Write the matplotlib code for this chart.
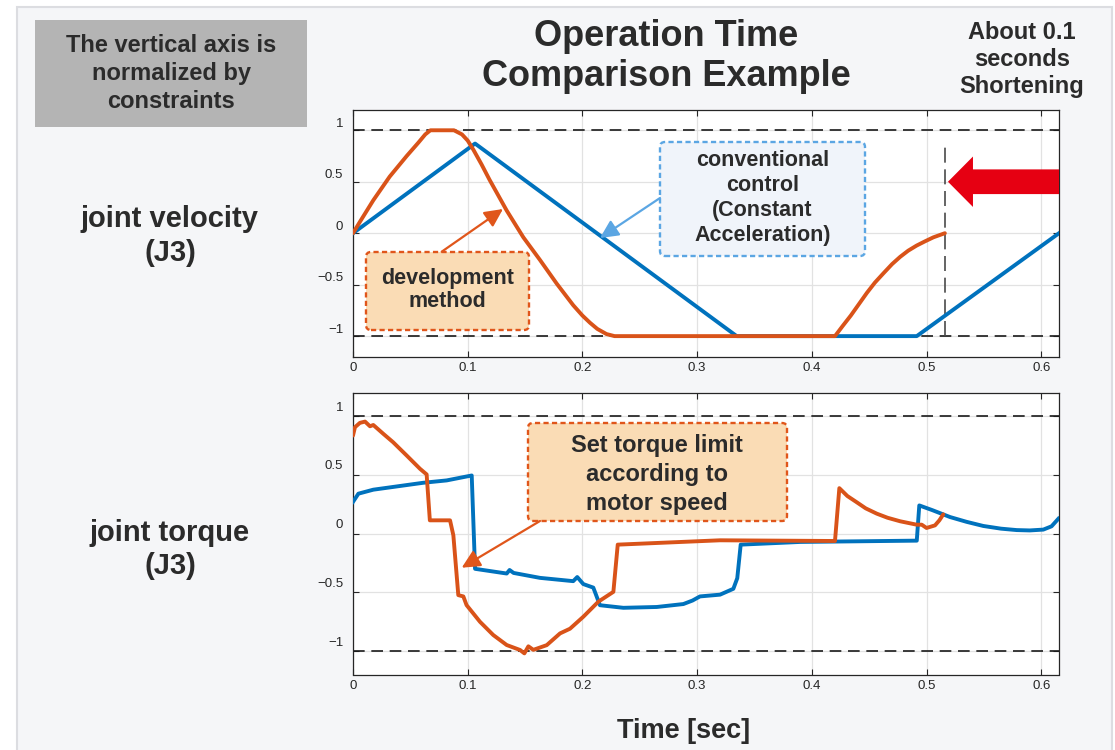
import matplotlib
matplotlib.use("Agg")
import matplotlib.pyplot as plt
from matplotlib.patches import Rectangle, FancyBboxPatch, FancyArrowPatch, FancyArrow
from matplotlib.transforms import ScaledTranslation

# ---------------- data ----------------
xticks = [0, 0.1, 0.2, 0.3, 0.4, 0.5, 0.6]
xtick_labels = ["0", "0.1", "0.2", "0.3", "0.4", "0.5", "0.6"]
yticks = [-1, -0.5, 0, 0.5, 1]
ytick_labels = ["\u22121", "\u22120.5", "0", "0.5", "1"]
limits = [-1, 1]

# joint velocity (normalized)
vel_conv_t = [0, 0.1064, 0.3345, 0.4915, 0.6155]
vel_conv_v = [0, 0.871, -1, -1, 0]
vel_dev_t = [0, 0.006, 0.0177, 0.032, 0.0468, 0.057, 0.063, 0.0675, 0.088, 0.095,
             0.100, 0.105, 0.112, 0.119, 0.134, 0.1485, 0.163, 0.1776, 0.192, 0.200,
             0.2066, 0.213, 0.221, 0.228, 0.4202, 0.427, 0.434, 0.441, 0.448, 0.455,
             0.4624, 0.470, 0.477, 0.484, 0.4914, 0.4985, 0.506, 0.516]
vel_dev_v = [0, 0.11, 0.32, 0.55, 0.75, 0.88, 0.96, 1.0, 1.0, 0.96,
             0.90, 0.81, 0.67, 0.52, 0.22, -0.04, -0.26, -0.49, -0.70, -0.80,
             -0.87, -0.93, -0.98, -1.0, -1.0, -0.90, -0.80, -0.69, -0.58, -0.48,
             -0.39, -0.30, -0.23, -0.17, -0.12, -0.08, -0.04, 0]

# joint torque (normalized)
tq_conv_t = [0, 0.0047, 0.0177, 0.0613, 0.0817, 0.1035, 0.1064, 0.134, 0.1365, 0.140,
             0.163, 0.192, 0.1955, 0.2008, 0.2095, 0.2153, 0.2357, 0.2648, 0.288,
             0.296, 0.3025, 0.32, 0.3316, 0.335, 0.338, 0.39, 0.4915, 0.4937,
             0.505, 0.5205, 0.535, 0.5495, 0.565, 0.5786, 0.59, 0.6018, 0.609, 0.615]
tq_conv_v = [0.27, 0.34, 0.374, 0.433, 0.453, 0.495, -0.30, -0.34, -0.31, -0.335,
             -0.377, -0.405, -0.37, -0.43, -0.46, -0.61, -0.632, -0.625, -0.60,
             -0.57, -0.535, -0.52, -0.47, -0.38, -0.094, -0.071, -0.06, 0.24,
             0.20, 0.141, 0.10, 0.065, 0.042, 0.030, 0.027, 0.034, 0.062, 0.127]
tq_dev_t = [0, 0.0017, 0.006, 0.0105, 0.0148, 0.0177, 0.0264, 0.035, 0.0468, 0.0584,
            0.0642, 0.067, 0.0846, 0.0875, 0.0918, 0.0962, 0.099, 0.1107, 0.1223,
            0.134, 0.1456, 0.1494, 0.1529, 0.1572, 0.1689, 0.1805, 0.1892, 0.2008,
            0.2139, 0.227, 0.2308, 0.32, 0.4202, 0.424, 0.431, 0.439, 0.447, 0.4566,
            0.466, 0.477, 0.4914, 0.4958, 0.5, 0.5074, 0.5112, 0.5146]
tq_dev_v = [0.835, 0.906, 0.943, 0.954, 0.914, 0.925, 0.85, 0.778, 0.665, 0.552,
            0.504, 0.113, 0.113, -0.015, -0.524, -0.535, -0.609, -0.751, -0.864,
            -0.949, -0.991, -1.02, -0.96, -0.99, -0.95, -0.85, -0.81, -0.708,
            -0.58, -0.496, -0.094, -0.057, -0.063, 0.387, 0.32, 0.268, 0.215, 0.17,
            0.135, 0.105, 0.076, 0.076, 0.048, 0.07, 0.113, 0.164]

shorten_t = 0.516

# ---------------- figure ----------------
W, H = 1115, 750
plt.rcParams['font.family'] = ['Liberation Sans', 'DejaVu Sans']
fig = plt.figure(figsize=(W / 100, H / 100), dpi=100)
fig.patch.set_facecolor('white')
T = fig.dpi_scale_trans


def P(px, py):
    return (px / 100.0, (H - py) / 100.0)


def fx(px):
    return px / W


def fy(py):
    return 1 - py / H


TXT = '#2b2b2b'
BLUE = '#0072bd'
ORANGE = '#d95319'

# panel background
fig.add_artist(Rectangle(P(17, 760), (1112 - 17) / 100, (760 - 7) / 100, transform=T,
                         fc='#f5f6f8', ec='#dcdde1', lw=1.5, zorder=-2))

ax1 = fig.add_axes([fx(353), fy(356.7), fx(1059) - fx(353), fy(109.7) - fy(356.7)])
ax2 = fig.add_axes([fx(353), fy(674.5), fx(1059) - fx(353), fy(392.7) - fy(674.5)])


def style(ax, yshift):
    ax.set_facecolor('white')
    ax.set_xlim(0, 0.6155)
    ax.set_ylim(-1.2, 1.2)
    ax.set_xticks(xticks)
    ax.set_xticklabels(xtick_labels)
    ax.set_yticks(yticks)
    ax.set_yticklabels(ytick_labels)
    ax.grid(True, color='#e2e2e2', lw=0.9)
    ax.set_axisbelow(True)
    ax.tick_params(direction='in', length=4, width=0.8, top=True, right=True,
                   labelsize=9.5, colors='#262626')
    ax.tick_params(axis='x', pad=4)
    ax.tick_params(axis='y', pad=7)
    for s in ax.spines.values():
        s.set_color('#262626')
        s.set_linewidth(0.9)
    for lim in limits:
        ax.axhline(lim, color='#1a1a1a', lw=1.2, ls=(0, (7, 4)), zorder=1.5)
    off = ScaledTranslation(0, yshift / 100.0, fig.dpi_scale_trans)
    for lab in ax.get_yticklabels():
        lab.set_transform(lab.get_transform() + off)


style(ax1, 8)
style(ax2, 10)

ax1.plot(vel_conv_t, vel_conv_v, color=BLUE, lw=2.8, zorder=3, solid_joinstyle='round')
ax1.plot(vel_dev_t, vel_dev_v, color=ORANGE, lw=2.8, zorder=3.2, solid_joinstyle='round',
         solid_capstyle='round')
ax1.vlines(shorten_t, -1.0, 0.9, color='#4a4a4a', lw=1.2, ls=(0, (9, 4)), zorder=2)
ax1.add_patch(FancyArrow(0.63, 0.5, -(0.63 - 0.5187), 0, width=0.24, head_width=0.49,
                         head_length=0.0218, length_includes_head=True,
                         color='#e60012', lw=0, zorder=4))

ax2.plot(tq_conv_t, tq_conv_v, color=BLUE, lw=2.8, zorder=3, solid_joinstyle='round')
ax2.plot(tq_dev_t, tq_dev_v, color=ORANGE, lw=2.8, zorder=3.2, solid_joinstyle='round',
         solid_capstyle='round')

# ---------------- texts & boxes ----------------
fig.add_artist(Rectangle(P(35, 127), (307 - 35) / 100, (127 - 20) / 100, transform=T,
                         fc='#b4b4b4', ec='none', zorder=1))
fig.text(fx(171), fy(73.5), "The vertical axis is\nnormalized by\nconstraints",
         ha='center', va='center', fontsize=17, fontweight='bold', color=TXT,
         linespacing=1.27, zorder=6)

fig.text(fx(666), fy(56.5), "Operation Time\nComparison Example", ha='center', va='center',
         fontsize=26, fontweight='bold', color=TXT, linespacing=1.2, zorder=6)
fig.text(fx(1022), fy(59.5), "About 0.1\nseconds\nShortening", ha='center', va='center',
         fontsize=17, fontweight='bold', color=TXT, linespacing=1.24, zorder=6)

fig.text(fx(170), fy(236), "joint velocity\n(J3)", ha='center', va='center',
         fontsize=21, fontweight='bold', color=TXT, linespacing=1.27, zorder=6)
fig.text(fx(170), fy(549.5), "joint torque\n(J3)", ha='center', va='center',
         fontsize=21, fontweight='bold', color=TXT, linespacing=1.27, zorder=6)
fig.text(fx(684), fy(731), "Time [sec]", ha='center', va='center',
         fontsize=19.5, fontweight='bold', color=TXT, zorder=6)


def dbox(x0, y0, x1, y1, fc, ec):
    fig.add_artist(FancyBboxPatch(P(x0, y1), (x1 - x0) / 100, (y1 - y0) / 100,
                                  boxstyle='round,pad=0,rounding_size=0.05', transform=T,
                                  fc=fc, ec=ec, lw=1.7, ls=(0, (2.2, 1.4)), zorder=5))


def arrow(p0, p1, color):
    fig.add_artist(FancyArrowPatch(P(*p0), P(*p1), transform=T,
                                   arrowstyle='-|>,head_length=0.55,head_width=0.27',
                                   mutation_scale=20, color=color, lw=1.6,
                                   shrinkA=0, shrinkB=0, zorder=5))


dbox(660, 142, 865, 256, '#f0f4fa', '#5ba6e3')
fig.text(fx(762.5), fy(198), "conventional\ncontrol\n(Constant\nAcceleration)",
         ha='center', va='center', fontsize=15.5, fontweight='bold', color=TXT,
         linespacing=1.27, zorder=6)
arrow((660, 198), (600, 238), '#5ba6e3')

dbox(366, 252, 529, 330, '#fadcb5', '#e0561b')
fig.text(fx(447.5), fy(290), "development\nmethod", ha='center', va='center',
         fontsize=15.5, fontweight='bold', color=TXT, linespacing=1.16, zorder=6)
arrow((441.7, 251.7), (503, 209), '#e0561b')

dbox(528, 423, 787, 521, '#fadcb5', '#e0561b')
fig.text(fx(657), fy(474.5), "Set torque limit\naccording to\nmotor speed",
         ha='center', va='center', fontsize=17, fontweight='bold', color=TXT,
         linespacing=1.33, zorder=6)
arrow((540, 521), (461.7, 567.7), '#e0561b')

fig.savefig('out.png', dpi=100)
